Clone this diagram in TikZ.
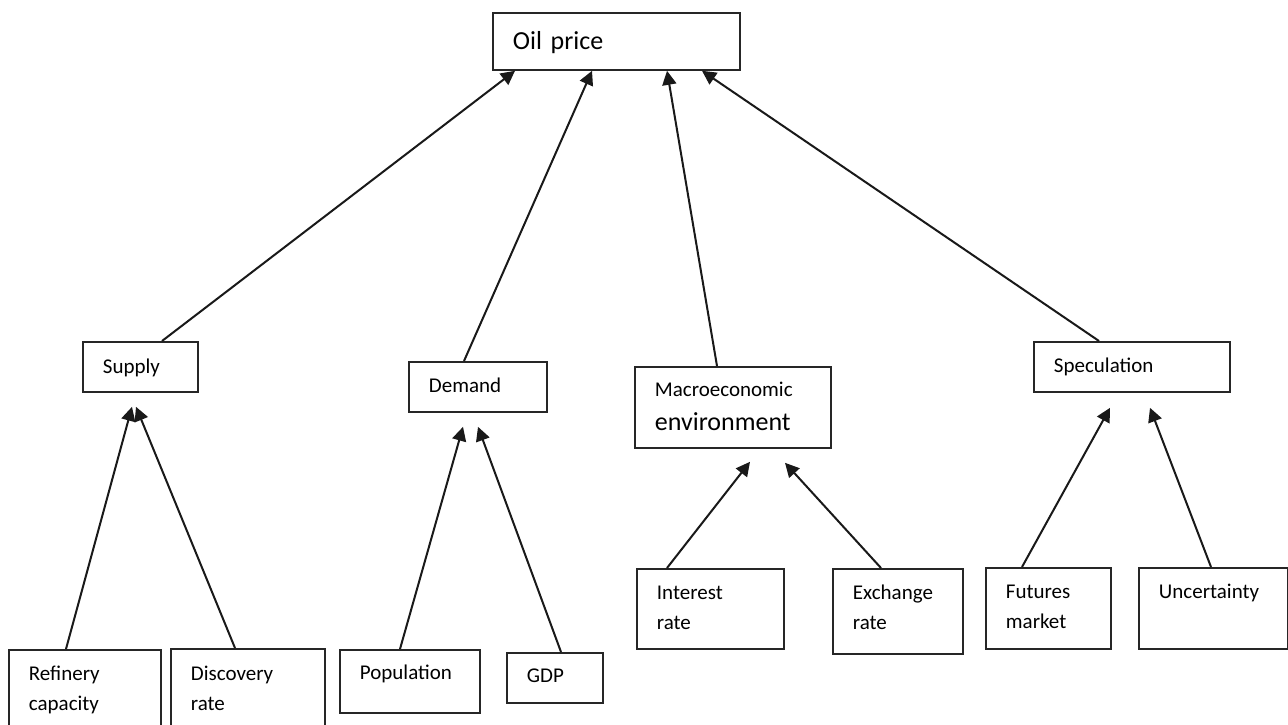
\documentclass[tikz,border=0pt]{standalone}
\usepackage{fontspec}
\setmainfont{Carlito}
\usetikzlibrary{arrows.meta}

\begin{document}
\begin{tikzpicture}[
  x=0.5pt,y=-0.5pt,
  box/.style={draw=black!85,line width=0.9pt,anchor=north west,align=left,
    inner xsep=10pt,inner ysep=0pt,text height=15.5pt,
    font=\fontsize{10.5}{15}\selectfont},
  arr/.style={-{Triangle[length=7pt,width=7pt]},line width=1pt,black!90}
]
\clip (0,0) rectangle (1288,724);
% top
\node[box,text width=103.5pt,text height=18.5pt,text depth=10pt,
  font=\fontsize{13}{15}\selectfont] (oil) at (492,12) {Oil price};
% factors
\node[box,text width=37.5pt,text height=16pt,text depth=9pt] (sup) at (82,341) {Supply};
\node[box,text width=49pt,text depth=9.5pt] (dem) at (408,361) {Demand};
\node[box,text width=78pt,text height=15pt,text depth=25.5pt] (mac) at (634,366)
  {Macroeconomic\\[2pt]{\fontsize{13}{15}\selectfont environment}};
\node[box,text width=78pt,text depth=9.5pt] (spec) at (1033,341) {Speculation};
% drivers
\node[box,text width=56pt,text depth=32pt] (ref) at (8,649) {Refinery\\capacity};
\node[box,text width=57pt,text height=16pt,text depth=32pt] (disc) at (170,648) {Discovery\\rate};
\node[box,text width=50pt,text height=15pt,text depth=16.5pt] (pop) at (339,649) {Population};
\node[box,text width=28pt,text height=15pt,text depth=10pt] (gdp) at (506,652) {GDP};
\node[box,text width=53.5pt,text depth=24.5pt] (int) at (636,568) {Interest\\rate};
\node[box,text width=45pt,text depth=27pt] (exch) at (832,568) {Exchange\\rate};
\node[box,text width=42.5pt,text depth=25pt] (fut) at (985,567) {Futures\\market};
\node[box,text width=54.5pt,text depth=25pt] (unc) at (1138,567) {Uncertainty};
% arrows to oil price
\draw[arr] ([xshift=40pt]sup.north west) -- ([xshift=11.5pt]oil.south west);
\draw[arr] ([xshift=28pt]dem.north west) -- ([xshift=50pt]oil.south west);
\draw[arr] ([xshift=41.5pt]mac.north west) -- ([xshift=87.5pt]oil.south west);
\draw[arr] ([xshift=33pt]spec.north west) -- ([xshift=105pt]oil.south west);
% arrows to factors
\draw[arr] ([xshift=29pt]ref.north west) -- ([xshift=25pt,yshift=-7pt]sup.south west);
\draw[arr] ([xshift=32.5pt]disc.north west) -- ([xshift=27pt,yshift=-7pt]sup.south west);
\draw[arr] ([xshift=30.5pt]pop.north west) -- ([xshift=27.5pt,yshift=-7pt]dem.south west);
\draw[arr] ([xshift=27.5pt]gdp.north west) -- ([xshift=35pt,yshift=-7pt]dem.south west);
\draw[arr] ([xshift=15.5pt]int.north west) -- ([xshift=58pt,yshift=-6.5pt]mac.south west);
\draw[arr] ([xshift=24.5pt]exch.north west) -- ([xshift=75.5pt,yshift=-7pt]mac.south west);
\draw[arr] ([xshift=18.5pt]fut.north west) -- ([xshift=38.5pt,yshift=-7.5pt]spec.south west);
\draw[arr] ([xshift=36.5pt]unc.north west) -- ([xshift=58.5pt,yshift=-7.5pt]spec.south west);
\end{tikzpicture}
\end{document}
